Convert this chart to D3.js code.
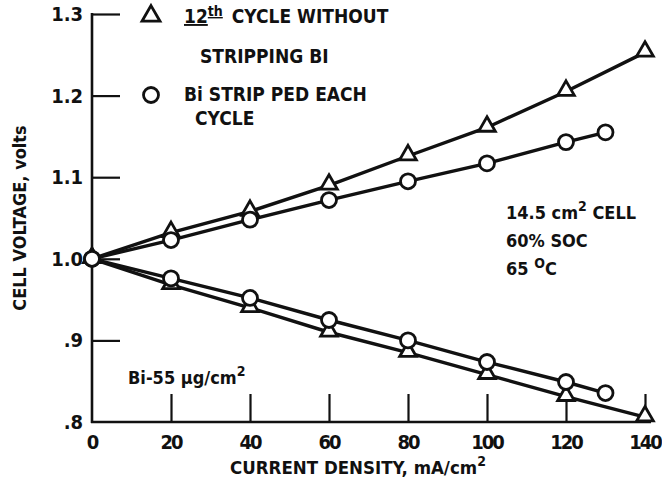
<!DOCTYPE html>
<html>
<head>
<meta charset="utf-8">
<script src="https://cdn.jsdelivr.net/npm/d3@7"></script>
<style>
  body { margin: 0; background: #fff; }
  svg text { font-family: "DejaVu Sans Condensed", "DejaVu Sans", sans-serif; font-stretch: condensed; font-weight: bold; fill: #111; }
</style>
</head>
<body>
<div id="vis"></div>
<script>
// chart data
var currentDensity = [0, 20, 40, 60, 80, 100, 120, 140]
var circleDensity = [0, 20, 40, 60, 80, 100, 120, 130]

// 12th cycle without stripping Bi (triangles)
var triCharge = [1.0, 1.032, 1.058, 1.09, 1.126, 1.161, 1.205, 1.253]
var triDischarge = [1.0, 0.968, 0.94, 0.91, 0.885, 0.858, 0.831, 0.806]
// Bi stripped each cycle (circles)
var circCharge = [1.0, 1.023, 1.048, 1.072, 1.095, 1.117, 1.143, 1.155]
var circDischarge = [1.0, 0.976, 0.952, 0.925, 0.9, 0.8735, 0.849, 0.8355]

var xTicks = [0, 20, 40, 60, 80, 100, 120, 140]
var yTicks = [0.8, 0.9, 1.0, 1.1, 1.2, 1.3]
var yTickLabels = [".8", ".9", "1.0", "1.1", "1.2", "1.3"]

var viewWidth = 662
var viewHeight = 484
var ink = "#111"

var xScale = d3.scaleLinear().domain([0, 140]).range([92, 645])
var yScale = d3.scaleLinear().domain([0.8, 1.3]).range([422, 14])

var svg = d3.select('#vis').append('svg')
  .attr('width', viewWidth)
  .attr('height', viewHeight)

// axes: ticks point inward, no frame on the top/right
var xAxis = d3.axisTop(xScale).tickValues(xTicks.slice(1)).tickSize(28).tickFormat('')
var yAxis = d3.axisRight(yScale).tickValues(yTicks.slice(1)).tickSize(28).tickFormat('')

svg.append('g')
  .attr('class', 'x axis')
  .attr('transform', 'translate(0,' + yScale(0.8) + ')')
  .call(xAxis)
svg.append('g')
  .attr('class', 'y axis')
  .attr('transform', 'translate(' + xScale(0) + ',0)')
  .call(yAxis)

svg.selectAll('.axis path').remove()
svg.selectAll('.axis line').attr('stroke', ink).attr('stroke-width', 2.2)

// axis lines
svg.append('line')
  .attr('x1', xScale(0)).attr('x2', xScale(0))
  .attr('y1', yScale(1.3) - 1).attr('y2', yScale(0.8) + 1)
  .attr('stroke', ink).attr('stroke-width', 2.6)
svg.append('line')
  .attr('x1', xScale(0) - 1).attr('x2', xScale(140) + 6)
  .attr('y1', yScale(0.8)).attr('y2', yScale(0.8))
  .attr('stroke', ink).attr('stroke-width', 2.6)

// tick labels
svg.selectAll('.xlab').data(xTicks).enter().append('text')
  .attr('class', 'xlab')
  .attr('x', d => xScale(d))
  .attr('y', yScale(0.8) + 27)
  .attr('text-anchor', 'middle')
  .style('font-size', '20px')
  .style('letter-spacing', '-2px')
  .text(d => d)

svg.selectAll('.ylab').data(yTicks).enter().append('text')
  .attr('class', 'ylab')
  .attr('x', xScale(0) - 9)
  .attr('y', d => yScale(d) + 7)
  .attr('text-anchor', 'end')
  .style('font-size', '20px')
  .text((d, i) => yTickLabels[i])

// axis titles
svg.append('text')
  .attr('x', 358).attr('y', 474)
  .attr('text-anchor', 'middle')
  .style('font-size', '18.5px')
  .html('CURRENT DENSITY, mA/cm<tspan dy="-8" font-size="14">2</tspan>')

svg.append('text')
  .attr('transform', 'translate(26,218) rotate(-90)')
  .attr('text-anchor', 'middle')
  .style('font-size', '18px')
  .text('CELL VOLTAGE, volts')

// curves
var lineGenerator = d3.line()
  .x(d => xScale(d.x))
  .y(d => yScale(d.y))

function pairs(xs, ys) {
  return xs.map((x, i) => ({x: x, y: ys[i]}))
}

var series = [
  {pts: pairs(currentDensity, triCharge), mark: 'tri'},
  {pts: pairs(currentDensity, triDischarge), mark: 'tri'},
  {pts: pairs(circleDensity, circCharge), mark: 'circ'},
  {pts: pairs(circleDensity, circDischarge), mark: 'circ'}
]

series.forEach(s => {
  svg.append('path')
    .attr('d', lineGenerator(s.pts))
    .attr('fill', 'none')
    .attr('stroke', ink)
    .attr('stroke-width', 3.4)
})

function drawMark(g, kind, x, y, size) {
  if (kind === 'tri') {
    g.append('path')
      .attr('d', d3.symbol().type(d3.symbolTriangle).size(size || 120)())
      .attr('transform', 'translate(' + x + ',' + (y - 1) + ')')
      .attr('fill', '#fff').attr('stroke', ink).attr('stroke-width', 2.8)
  } else {
    g.append('circle')
      .attr('cx', x).attr('cy', y).attr('r', 7.5)
      .attr('fill', '#fff').attr('stroke', ink).attr('stroke-width', 2.8)
  }
}

var marks = svg.append('g')
series.forEach(s => {
  s.pts.forEach(p => drawMark(marks, s.mark, xScale(p.x), yScale(p.y)))
})

// legend
drawMark(svg, 'tri', 151, 17, 140)
drawMark(svg, 'circ', 151, 95)
var legend = svg.append('g').style('font-size', '19px')
legend.append('text').attr('x', 184).attr('y', 23)
  .html('<tspan text-decoration="underline">12<tspan dy="-7" font-size="14">th</tspan></tspan><tspan dy="7" dx="9">CYCLE WITHOUT</tspan>')
legend.append('text').attr('x', 200).attr('y', 63).text('STRIPPING BI')
legend.append('text').attr('x', 184).attr('y', 101).text('Bi STRIP PED EACH')
legend.append('text').attr('x', 195).attr('y', 125).text('CYCLE')

// conditions note
var note = svg.append('g').style('font-size', '18px')
note.append('text').attr('x', 506).attr('y', 219)
  .html('14.5 cm<tspan dy="-8" font-size="14">2</tspan><tspan dy="8"> CELL</tspan>')
note.append('text').attr('x', 506).attr('y', 247).text('60% SOC')
note.append('text').attr('x', 506).attr('y', 275)
  .html('65 <tspan dy="-7" font-size="14">O</tspan><tspan dy="7">C</tspan>')

svg.append('text').attr('x', 128).attr('y', 384)
  .style('font-size', '18px')
  .html('Bi-55 µg/cm<tspan dy="-8" font-size="14">2</tspan>')
</script>
</body>
</html>
